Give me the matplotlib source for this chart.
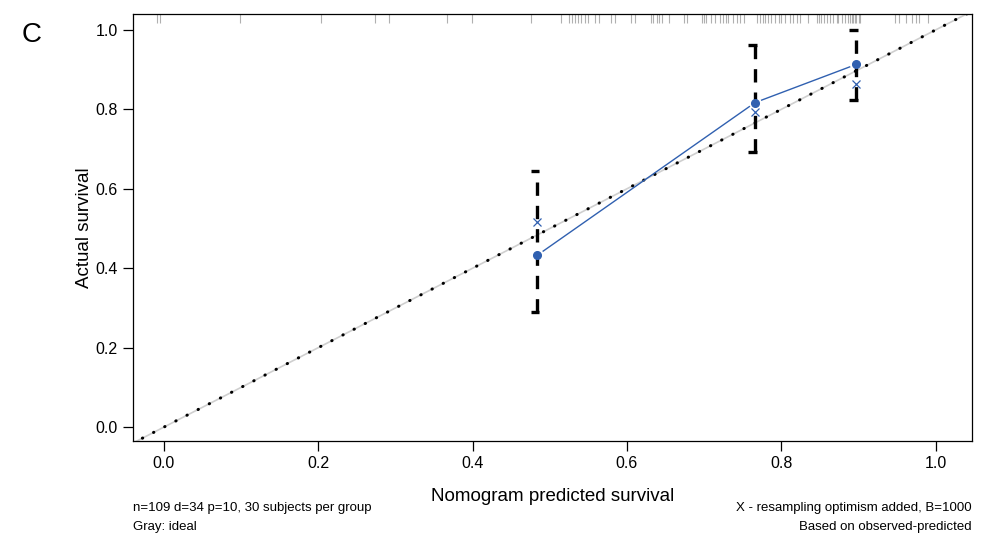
import numpy as np
import matplotlib
matplotlib.use('Agg')
import matplotlib.pyplot as plt
import matplotlib.transforms as mtransforms

plt.rcParams['font.family'] = ['Liberation Sans', 'DejaVu Sans']

# calibration groups (nomogram predicted vs actual survival)
pred = [0.484, 0.766, 0.897]
observed = [0.433, 0.817, 0.913]
corrected = [0.517, 0.794, 0.863]
lower = [0.290, 0.693, 0.824]
upper = [0.646, 0.962, 1.000]

# rug of predicted values along the top
rug = [-0.009, -0.005, 0.099, 0.204, 0.273, 0.292, 0.367, 0.399, 0.476,
       0.515, 0.525, 0.529, 0.533, 0.537, 0.541, 0.546, 0.549, 0.559, 0.564,
       0.579, 0.584, 0.605, 0.611, 0.631, 0.634, 0.639, 0.642, 0.645, 0.654,
       0.674, 0.678, 0.697, 0.700, 0.703, 0.709, 0.714, 0.721, 0.724, 0.728,
       0.731, 0.738, 0.742, 0.747, 0.751, 0.769, 0.772, 0.776, 0.779, 0.783,
       0.787, 0.792, 0.797, 0.800, 0.805, 0.811, 0.815, 0.820, 0.824, 0.835,
       0.846, 0.849, 0.852, 0.855, 0.859, 0.863, 0.867, 0.872, 0.874, 0.878,
       0.882, 0.887, 0.889, 0.891, 0.893, 0.895, 0.897, 0.900, 0.902, 0.947,
       0.953, 0.962, 0.969, 0.974, 0.978, 0.990]

blue = '#3060b0'

fig = plt.figure(figsize=(9.81, 5.36), dpi=100)
ax = fig.add_axes([0.1356, 0.1772, 0.8552, 0.7967])
ax.set_xlim(-0.04, 1.047)
ax.set_ylim(-0.035, 1.04)

# ideal line (gray) + dotted reference
ax.plot([-0.1, 1.1], [-0.1, 1.1], color='#cfcfcf', lw=1.2, zorder=1)
ax.plot([-0.1, 1.1], [-0.1, 1.1], color='black', lw=2.2,
        linestyle=(0, (0.1, 4.0)), dash_capstyle='round', zorder=2)

# rug
trans = mtransforms.blended_transform_factory(ax.transData, ax.transAxes)
ax.vlines(rug, 0.98, 1.0, transform=trans, color='#b0b0b0', lw=0.8, zorder=1)

# error bars with half caps
for x, lo, hi in zip(pred, lower, upper):
    ax.plot([x, x], [lo, hi], color='black', lw=2.4,
            linestyle=(0, (4, 3.0)), zorder=3)
    ax.hlines([lo, hi], x - 0.009, x + 0.0025, color='black', lw=2.4, zorder=3)

# observed line with gaps around points (type="b")
fig.canvas.draw()
pts = ax.transData.transform(np.column_stack([pred, observed]))
gap = 7.0
for p0, p1 in zip(pts[:-1], pts[1:]):
    d = p1 - p0
    u = d / np.hypot(*d)
    seg = ax.transData.inverted().transform(np.vstack([p0 + u * gap, p1 - u * gap]))
    ax.plot(seg[:, 0], seg[:, 1], color=blue, lw=1.0, zorder=4)
ax.plot(pred, observed, 'o', color=blue, ms=5.5, zorder=5)
ax.plot(pred, corrected, 'x', color=blue, ms=6, mew=0.9, zorder=5)

ticks = [0.0, 0.2, 0.4, 0.6, 0.8, 1.0]
ax.set_xticks(ticks)
ax.set_yticks(ticks)
ax.set_xticklabels(['%.1f' % t for t in ticks])
ax.set_yticklabels(['%.1f' % t for t in ticks])
ax.tick_params(length=7, width=0.9, labelsize=11.5, pad=4)
for s in ax.spines.values():
    s.set_linewidth(0.9)

ax.set_xlabel('Nomogram predicted survival', fontsize=13.5, labelpad=12)
ax.set_ylabel('Actual survival', fontsize=13.5, labelpad=2)

fig.text(0.1356, 1 - 508 / 536, 'n=109 d=34 p=10, 30 subjects per group',
         fontsize=9.5, va='center', ha='left')
fig.text(0.1356, 1 - 527 / 536, 'Gray: ideal',
         fontsize=9.5, va='center', ha='left')
fig.text(0.9908, 1 - 508 / 536, 'X - resampling optimism added, B=1000',
         fontsize=9.5, va='center', ha='right')
fig.text(0.9908, 1 - 527 / 536, 'Based on observed-predicted',
         fontsize=9.5, va='center', ha='right')

fig.text(22 / 981, 1 - 35 / 536, 'C', fontsize=20, va='center', ha='left')

fig.savefig('out.png', dpi=100)
